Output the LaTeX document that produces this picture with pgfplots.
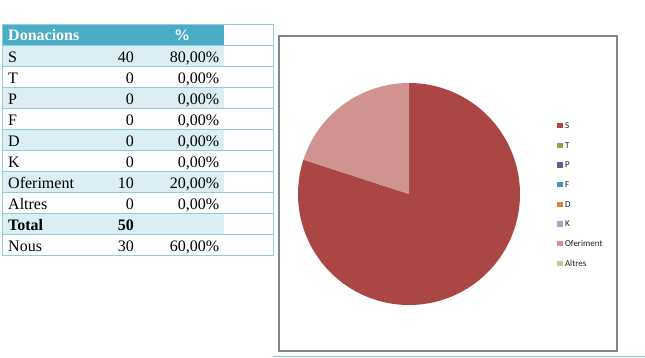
\documentclass[border=0pt]{standalone}
\usepackage{pgfplots}
\pgfplotsset{compat=1.18}
\usepackage{fontspec}
\setmainfont{Liberation Serif}
\newfontfamily\legfont{Carlito}
\definecolor{hdr}{HTML}{4BACC6}
\definecolor{rowb}{HTML}{DAEEF3}
\definecolor{brd}{HTML}{92CDDC}
\definecolor{cS}{HTML}{AA4643}
\definecolor{cT}{HTML}{89A54E}
\definecolor{cP}{HTML}{71588F}
\definecolor{cF}{HTML}{4198AF}
\definecolor{cD}{HTML}{DB843D}
\definecolor{cK}{HTML}{93A9CF}
\definecolor{cO}{HTML}{D19392}
\definecolor{cA}{HTML}{B9CD96}
% pie data
\def\vS{40}\def\vT{0}\def\vP{0}\def\vF{0}\def\vD{0}\def\vK{0}\def\vO{10}\def\vA{0}
\def\vTot{50}
\pgfmathsetmacro\aS{90-360*\vS/\vTot}
\pgfmathsetmacro\aO{\aS-360*\vO/\vTot}
\begin{document}
\begin{tikzpicture}
\begin{scope}[x=1bp,y=-1bp]
\path[use as bounding box] (0,0) rectangle (645,357);
% table fills
\fill[hdr] (3,24.7) rectangle (224,45);
\foreach \t in {45,87,129,171,213}{\fill[rowb] (3,\t) rectangle (224,\t+21);}
% borders
\foreach \t in {45,66,87,108,129,150,171,192,213,234}{\draw[brd,line width=0.9bp] (2.7,\t) -- (273.3,\t);}
\draw[brd,line width=0.9bp,line join=miter] (2.7,24.7) rectangle (273.3,255);
% header
\begin{scope}[every node/.style={inner sep=0pt,font=\fontsize{16bp}{19bp}\selectfont}]
\node[anchor=base west,text=white] at (8,40.7) {\bfseries Donacions};
\node[anchor=base,text=white] at (182,40.7) {\bfseries \%};
\foreach \lab/\n/\p [count=\i from 0] in {S/40/{80,00\%},T/0/{0,00\%},P/0/{0,00\%},F/0/{0,00\%},D/0/{0,00\%},K/0/{0,00\%},Oferiment/10/{20,00\%},Altres/0/{0,00\%}}{
  \node[anchor=base west] at (8,62.3+21*\i) {\lab};
  \node[anchor=base east] at (134,62.3+21*\i) {\n};
  \node[anchor=base east] at (219.3,62.3+21*\i) {\p};
}
\node[anchor=base west] at (8,230.3) {\bfseries Total};
\node[anchor=base east] at (134,230.3) {\bfseries 50};
\node[anchor=base west] at (8,251.3) {Nous};
\node[anchor=base east] at (134,251.3) {30};
\node[anchor=base east] at (219.3,251.3) {60,00\%};
\end{scope}
% chart frame
\draw[color={rgb,255:red,134;green,134;blue,134},line width=1.1bp,line join=miter] (279,36) rectangle (617,351);
\draw[color={rgb,255:red,127;green,203;blue,224},line width=1bp] (273,356) -- (645,356);
\end{scope}
\begin{axis}[
  at={(409bp,-194bp)}, anchor=center,
  scale only axis, width=222bp, height=222bp,
  xmin=-1, xmax=1, ymin=-1, ymax=1,
  hide axis, clip=false,
  legend image code/.code={\fill[#1] (0bp,-2.75bp) rectangle (5.5bp,2.75bp);},
  legend cell align=left,
  legend style={at={(axis description cs:1.1667,0.8207)}, anchor=north west,
    draw=none, fill=none, inner sep=0pt, outer sep=0pt, row sep=13.86bp,
    nodes={inner xsep=2.5bp, inner ysep=0pt, text height=5.8bp, text depth=0bp,
      font=\legfont\fontsize{9bp}{10bp}\selectfont, text={rgb,255:red,30;green,30;blue,30}}},
]
\addplot[fill=cS, draw=none, domain=\aS:90, samples=150, variable=\t] ({cos(t)},{sin(t)}) -- (axis cs:0,0) -- cycle;
\addlegendentry{S}
\addlegendimage{fill=cT, draw=none}\addlegendentry{T}
\addlegendimage{fill=cP, draw=none}\addlegendentry{P}
\addlegendimage{fill=cF, draw=none}\addlegendentry{F}
\addlegendimage{fill=cD, draw=none}\addlegendentry{D}
\addlegendimage{fill=cK, draw=none}\addlegendentry{K}
\addplot[fill=cO, draw=none, domain=\aO:\aS, samples=60, variable=\t] ({cos(t)},{sin(t)}) -- (axis cs:0,0) -- cycle;
\addlegendentry{Oferiment}
\addlegendimage{fill=cA, draw=none}\addlegendentry{Altres}
\end{axis}
\end{tikzpicture}
\end{document}
